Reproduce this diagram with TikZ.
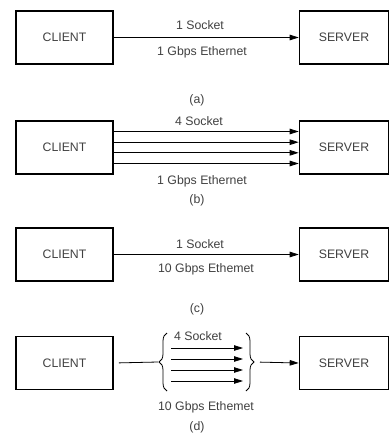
\documentclass[tikz,border=0pt]{standalone}
\usepackage{fontspec}
\setmainfont{Liberation Sans}
\usetikzlibrary{arrows.meta,decorations.pathreplacing}
\begin{document}
\begin{tikzpicture}[x=1pt,y=-1pt,
  font=\fontsize{12.3}{14}\selectfont,
  txt/.style={text=black!75, inner sep=0pt},
  cbox/.style={draw=black, line width=1.6pt, minimum width=97pt, minimum height=53pt, inner sep=0pt, text=black!75},
  sbox/.style={draw=black, line width=1.6pt, minimum width=89pt, minimum height=53pt, inner sep=0pt, text=black!75},
  arr/.style={line width=0.8pt, -{Triangle[length=9pt,width=5.5pt]}},
  ln/.style={line width=0.8pt},
  brc/.style={line width=0.8pt, decorate, decoration={brace, amplitude=8pt}}]
\useasboundingbox (0,0) rectangle (390,434);
% (a)
\node[cbox] (ca) at (64.5,37.5) {CLIENT};
\node[sbox] (sa) at (344,37.5) {SERVER};
\draw[arr] (ca.east) -- (sa.west);
\node[txt] (la1) at (200,25) {1 Socket};
\node[txt] (la2) at (202,52) {1 Gbps Ethernet};
\node[txt] (la3) at (197,100) {(a)};
% (b)
\node[cbox] (cb) at (64.5,147.5) {CLIENT};
\node[sbox] (sb) at (344,147.5) {SERVER};
\foreach \s in {16,5.3,-5.3,-16}
  \draw[arr] ([yshift=\s pt]cb.east) -- ([yshift=\s pt]sb.west);
\node[txt] (lb1) at (199,121) {4 Socket};
\node[txt] (lb2) at (202,181) {1 Gbps Ethernet};
\node[txt] (lb3) at (197,200) {(b)};
% (c)
\node[cbox] (cc) at (64.5,254.5) {CLIENT};
\node[sbox] (sc) at (344,254.5) {SERVER};
\draw[arr] (cc.east) -- (sc.west);
\node[txt] (lc1) at (200,244) {1 Socket};
\node[txt] (lc2) at (206,269) {10 Gbps Ethemet};
\node[txt] (lc3) at (197,309) {(c)};
% (d)
\node[cbox] (cd) at (64.5,363) {CLIENT};
\node[sbox] (sd) at (344,363) {SERVER};
\coordinate (lbt) at (158,362);
\coordinate (rbt) at (255,362);
\draw[brc] (167,391) -- (167,333);
\draw[brc] (246,333) -- (246,391);
\draw[ln, shorten <=5pt] (cd.east) -- (lbt);
\draw[arr, shorten <=5pt] (rbt) -- (sd.west);
\foreach \y [count=\i] in {348,359,370,381} {
  \coordinate (s\i) at (171,\y);
  \coordinate (e\i) at (243,\y);
  \draw[arr] (s\i) -- (e\i);
}
\node[txt, fill=white, inner xsep=2pt] (ld1) at (198,336) {4 Socket};
\node[txt] (ld2) at (206,407) {10 Gbps Ethemet};
\node[txt] (ld3) at (197,427) {(d)};
\end{tikzpicture}
\end{document}
